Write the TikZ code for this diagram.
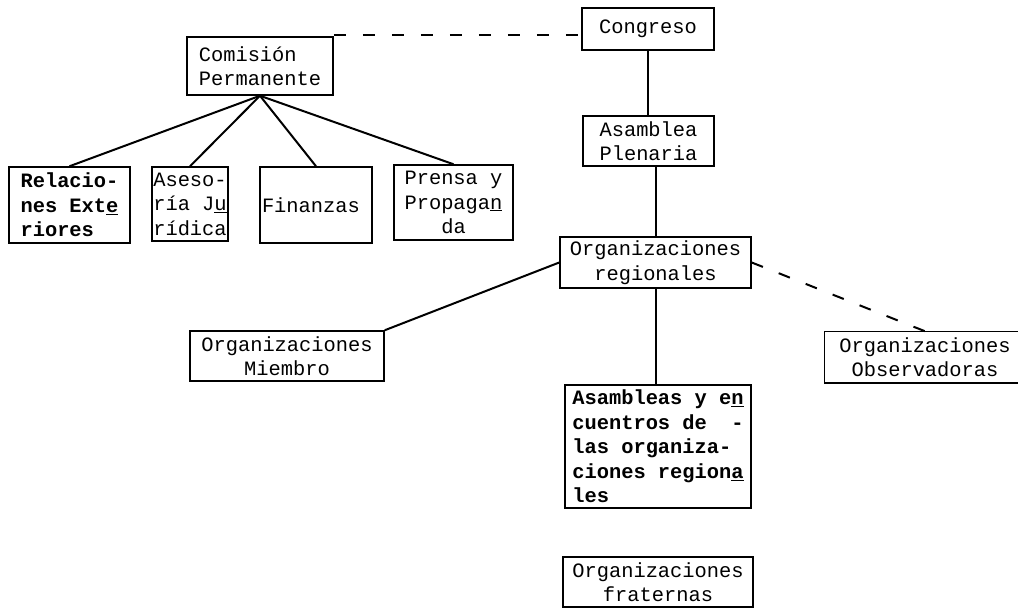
\documentclass[tikz,border=0pt]{standalone}
\usepackage{fontspec}
\setmonofont{Liberation Mono}
\newfontfamily\typew{Liberation Mono}
\usetikzlibrary{calc}
\tikzset{
  box/.style={draw=black, line width=1.5pt, rectangle, inner sep=0pt, font=\typew\fontsize{20.4}{24.5}\selectfont},
  boxb/.style={box, font=\typew\bfseries\fontsize{20.4}{24.5}\selectfont},
  link/.style={draw=black, line width=2pt},
  dlink/.style={draw=black, line width=2pt, dash pattern=on 12pt off 17pt},
}
\begin{document}
\begin{tikzpicture}[x=1pt,y=-1pt]
\useasboundingbox (0,0) rectangle (1018,610);
% right column
\node[box, minimum width=132pt, minimum height=42pt, align=center] (cong) at (648,29) {Congreso};
\node[box, minimum width=131pt, minimum height=50pt, align=center] (asam) at (648.5,141) {Asamblea\\Plenaria};
\node[box, minimum width=191pt, minimum height=51pt, align=center] (reg) at (655.5,262.5) {Organizaciones\\regionales};
\node[box, minimum width=194pt, minimum height=50pt, align=center] (mie) at (287,356) {Organizaciones\\Miembro};
\node[box, draw=none, minimum width=200pt, minimum height=50pt, align=center] (obs) at (925,357) {Organizaciones\\Observadoras};
\draw[line width=1.5pt] (obs.north east) -- (obs.north west) -- (obs.south west) -- (obs.south east);
\node[boxb, minimum width=186pt, minimum height=123pt, align=left] (asen) at (658,446.5)
  {Asambleas y e\underline{n}\\cuentros de~~-\\las organiza-\\ciones region\underline{a}\\les};
\node[box, minimum width=190pt, minimum height=50pt, align=center] (fra) at (658,582) {Organizaciones\\fraternas};
% left group
\node[box, minimum width=146pt, minimum height=58pt, align=left] (com) at (260,66) {Comisión\\Permanente};
\node[boxb, minimum width=121pt, minimum height=76pt, align=left] (rel) at (69.5,205) {Relacio-\\nes Ext\underline{e}\\riores};
\node[box, minimum width=76pt, minimum height=74pt, align=left] (ase) at (190,204) {Aseso-\\ría J\underline{u}\\rídica};
\node[box, minimum width=112pt, minimum height=76pt, text width=108pt, align=left] (fin) at (316,205) {Finanzas};
\node[box, minimum width=119pt, minimum height=75pt, align=center] (pre) at (453.5,202.5) {Prensa y\\Propaga\underline{n}\\da};
% connectors
\draw[dlink] ([yshift=1pt]com.north east) -- ([yshift=1pt]com.north east -| cong.west);
\foreach \c in {rel,ase,fin,pre} \draw[link] (com.south) -- (\c.north);
\draw[link] (cong.south) -- (cong.south |- asam.north);
\draw[link] (asam.south -| reg.north) -- (reg.north);
\draw[link] (reg.south) -- (reg.south |- asen.north);
\draw[link] (reg.west) -- (mie.north east);
\draw[dlink] (reg.east) -- (obs.north);
\end{tikzpicture}
\end{document}
